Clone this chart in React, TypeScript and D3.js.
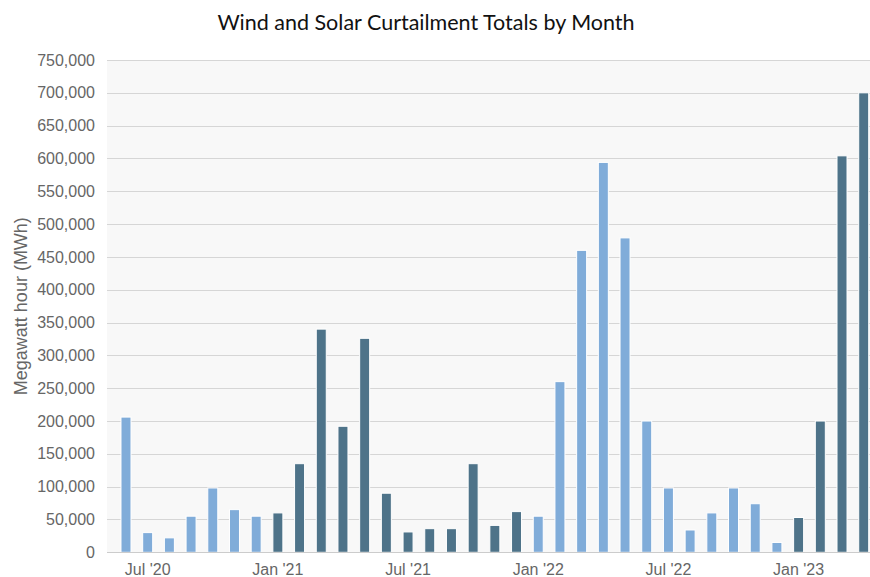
import { useEffect, useRef } from 'react';
import * as d3 from 'd3';

// monthly totals Jun '20 .. Apr '23
const months = [
  'Jun 2020', 'Jul 2020', 'Aug 2020', 'Sep 2020', 'Oct 2020', 'Nov 2020', 'Dec 2020',
  'Jan 2021', 'Feb 2021', 'Mar 2021', 'Apr 2021', 'May 2021', 'Jun 2021', 'Jul 2021',
  'Aug 2021', 'Sep 2021', 'Oct 2021', 'Nov 2021', 'Dec 2021',
  'Jan 2022', 'Feb 2022', 'Mar 2022', 'Apr 2022', 'May 2022', 'Jun 2022', 'Jul 2022',
  'Aug 2022', 'Sep 2022', 'Oct 2022', 'Nov 2022', 'Dec 2022',
  'Jan 2023', 'Feb 2023', 'Mar 2023', 'Apr 2023',
];
const curtailment = [
  206000, 30000, 22000, 55000, 98000, 65000, 55000,
  60000, 135000, 340000, 192000, 326000, 90000, 31000,
  36000, 36000, 135000, 41000, 62000,
  55000, 260000, 460000, 594000, 479000, 200000, 98000,
  34000, 60000, 98000, 74000, 15000,
  53000, 200000, 604000, 700000,
];
const xTicks = [
  { idx: 1, label: "Jul '20" },
  { idx: 7, label: "Jan '21" },
  { idx: 13, label: "Jul '21" },
  { idx: 19, label: "Jan '22" },
  { idx: 25, label: "Jul '22" },
  { idx: 31, label: "Jan '23" },
];
const yTicks = d3.range(0, 750001, 50000);

const App = () => {
  const ref = useRef<SVGSVGElement>(null);

  useEffect(() => {
    const svg = d3.select(ref.current);
    svg.selectAll('*').remove();

    const width = 870;
    const height = 577;
    const margin = { top: 60, right: 0, bottom: 25, left: 107 };
    const font = '"Liberation Sans", Arial, sans-serif';

    const x = d3
      .scaleLinear()
      .domain([-0.875, months.length - 0.71])
      .range([margin.left, width - margin.right]);

    const y = d3
      .scaleLinear()
      .domain([0, 750000])
      .range([height - margin.bottom + 0.3, margin.top]);

    svg
      .append('rect')
      .attr('x', margin.left)
      .attr('y', margin.top)
      .attr('width', width - margin.left - margin.right)
      .attr('height', y(0) - margin.top)
      .attr('fill', '#f8f8f8');

    svg
      .append('text')
      .attr('x', 426)
      .attr('y', 30)
      .attr('text-anchor', 'middle')
      .attr('font-family', 'Lato, "Open Sans", sans-serif')
      .attr('font-size', '21.5px')
      .attr('fill', '#111')
      .text('Wind and Solar Curtailment Totals by Month');

    // grid + y labels
    const yg = svg.append('g');
    yg.selectAll('line')
      .data(yTicks.slice(1))
      .enter()
      .append('line')
      .attr('x1', margin.left)
      .attr('x2', width)
      .attr('y1', (d) => Math.round(y(d)) + 0.5)
      .attr('y2', (d) => Math.round(y(d)) + 0.5)
      .attr('stroke', '#d6d6d6')
      .attr('stroke-width', 1);

    yg.selectAll('text')
      .data(yTicks)
      .enter()
      .append('text')
      .attr('x', 95)
      .attr('y', (d) => y(d))
      .attr('dy', '0.35em')
      .attr('text-anchor', 'end')
      .attr('font-family', font)
      .attr('font-size', '16px')
      .attr('fill', '#666')
      .text((d) => d3.format(',')(d));

    svg
      .append('text')
      .attr('transform', `translate(27,${(y(0) + margin.top) / 2}) rotate(-90)`)
      .attr('text-anchor', 'middle')
      .attr('font-family', font)
      .attr('font-size', '18px')
      .attr('fill', '#666')
      .text('Megawatt hour (MWh)');

    // bars, colour alternates by year
    const barW = 10;
    svg
      .append('g')
      .selectAll('rect')
      .data(curtailment)
      .enter()
      .append('rect')
      .attr('x', (_, i) => x(i) - barW / 2)
      .attr('y', (d) => y(d))
      .attr('width', barW)
      .attr('height', (d) => y(0) - y(d))
      .attr('fill', (_, i) => (+months[i].slice(-4) % 2 === 1 ? '#4e7389' : '#80acd9'))
      .attr('stroke', '#fff')
      .attr('stroke-width', 1);

    // x axis line
    svg
      .append('line')
      .attr('x1', margin.left)
      .attr('x2', width)
      .attr('y1', Math.round(y(0)) + 0.5)
      .attr('y2', Math.round(y(0)) + 0.5)
      .attr('stroke', '#ccc');

    svg
      .append('g')
      .selectAll('text')
      .data(xTicks)
      .enter()
      .append('text')
      .attr('x', (d) => x(d.idx))
      .attr('y', 575)
      .attr('text-anchor', 'middle')
      .attr('font-family', font)
      .attr('font-size', '16px')
      .attr('fill', '#666')
      .text((d) => d.label);
  }, []);

  return (
    <svg
      ref={ref}
      width={870}
      height={577}
      style={{ position: 'absolute', left: 0, top: 0, background: '#fff' }}
    ></svg>
  );
};

export default App;
